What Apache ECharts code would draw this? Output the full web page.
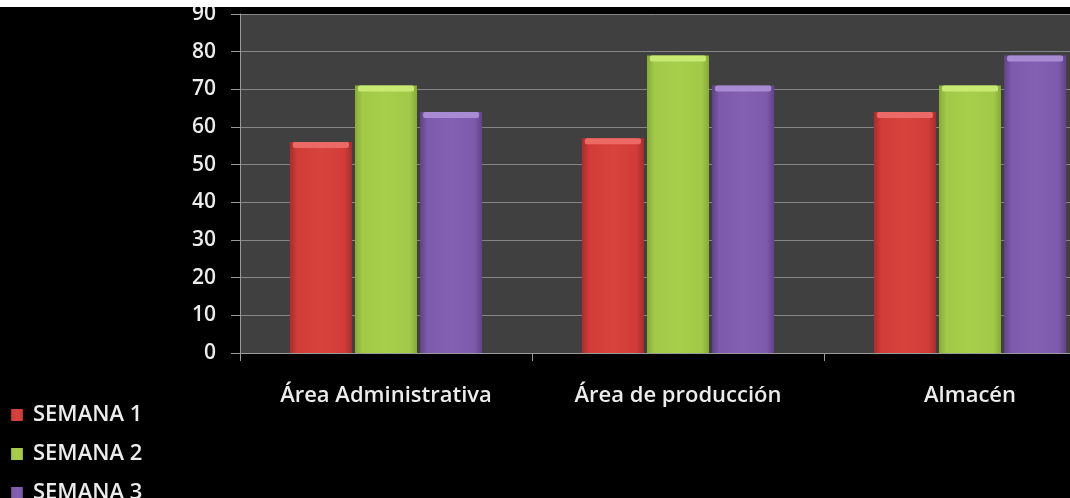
<!DOCTYPE html>
<html>
<head>
<meta charset="utf-8">
<script src="https://cdn.jsdelivr.net/npm/echarts@6/dist/echarts.min.js"></script>
<style>
  html, body { margin: 0; padding: 0; background: #ffffff; overflow: hidden; }
  #chart { position: absolute; left: 0; top: 7px; width: 1070px; height: 540px; background: #000000; }
</style>
</head>
<body>
<div id="chart"></div>
<script>
// Categories and weekly values
const categories = ['Área Administrativa', 'Área de producción', 'Almacén'];
const semana1 = [56, 57, 64];
const semana2 = [71, 79, 71];
const semana3 = [64, 71, 79];
const seriesNames = ['SEMANA 1', 'SEMANA 2', 'SEMANA 3'];

const FONT = '"Open Sans", Lato, sans-serif';

// Shaded bar fill: darker edges, lighter body
function shade(edge, mid, light) {
  return {
    type: 'linear', x: 0, y: 0, x2: 1, y2: 0,
    colorStops: [
      { offset: 0, color: edge },
      { offset: 0.12, color: mid },
      { offset: 0.5, color: light },
      { offset: 0.88, color: mid },
      { offset: 1, color: edge }
    ]
  };
}

const palette = [
  { edge: '#a92d2b', mid: '#d13c38', light: '#d9433e', top: '#ec6a66', legend: '#d63f3c' },
  { edge: '#86ab37', mid: '#a2c947', light: '#a8cf4b', top: '#c8ea72', legend: '#a4cb48' },
  { edge: '#5f4389', mid: '#7d5aab', light: '#8360b1', top: '#a98bd4', legend: '#7f5caf' }
];

function barSeries(name, data, p) {
  return {
    name: name,
    type: 'bar',
    data: data,
    barWidth: 62,
    barGap: '5%',
    itemStyle: { color: shade(p.edge, p.mid, p.light) },
    // light bevel strip along the top of each bar
    label: {
      show: true,
      position: 'insideTop',
      distance: 0,
      formatter: function () { return '{t| }'; },
      rich: {
        t: {
          width: 56, height: 6, lineHeight: 6,
          backgroundColor: p.top, borderRadius: 2, fontSize: 1
        }
      }
    },
    emphasis: { disabled: true }
  };
}

const chart = echarts.init(document.getElementById('chart'));
chart.setOption({
  backgroundColor: '#000000',
  animation: false,
  color: palette.map(p => p.legend),
  legend: {
    orient: 'vertical',
    left: 11,
    top: 397,
    padding: 0,
    icon: 'rect',
    itemWidth: 12,
    itemHeight: 12,
    itemGap: 17,
    textStyle: {
      color: '#ececec', fontSize: 22, fontWeight: 600, fontFamily: FONT,
      lineHeight: 14, padding: [0, 0, 0, 5]
    },
    data: seriesNames
  },
  grid: {
    left: 240,
    top: 7,
    width: 876,
    height: 339,
    outerBoundsMode: 'none',
    show: true,
    backgroundColor: '#404040',
    borderWidth: 0
  },
  xAxis: {
    type: 'category',
    data: categories,
    axisLine: { lineStyle: { color: '#9a9a9a', width: 1 } },
    axisTick: { show: true, length: 8, lineStyle: { color: '#9a9a9a' } },
    axisLabel: { color: '#ececec', fontSize: 22, fontWeight: 600, fontFamily: FONT, margin: 32 }
  },
  yAxis: {
    type: 'value',
    min: 0,
    max: 90,
    interval: 10,
    axisLine: { show: true, lineStyle: { color: '#9a9a9a', width: 1 } },
    axisTick: { show: true, length: 9, lineStyle: { color: '#9a9a9a' } },
    axisLabel: { color: '#ececec', fontSize: 21, fontWeight: 600, fontFamily: FONT, margin: 24 },
    splitLine: { lineStyle: { color: '#858585', width: 1 } }
  },
  series: [
    barSeries(seriesNames[0], semana1, palette[0]),
    barSeries(seriesNames[1], semana2, palette[1]),
    barSeries(seriesNames[2], semana3, palette[2])
  ]
});
</script>
</body>
</html>
